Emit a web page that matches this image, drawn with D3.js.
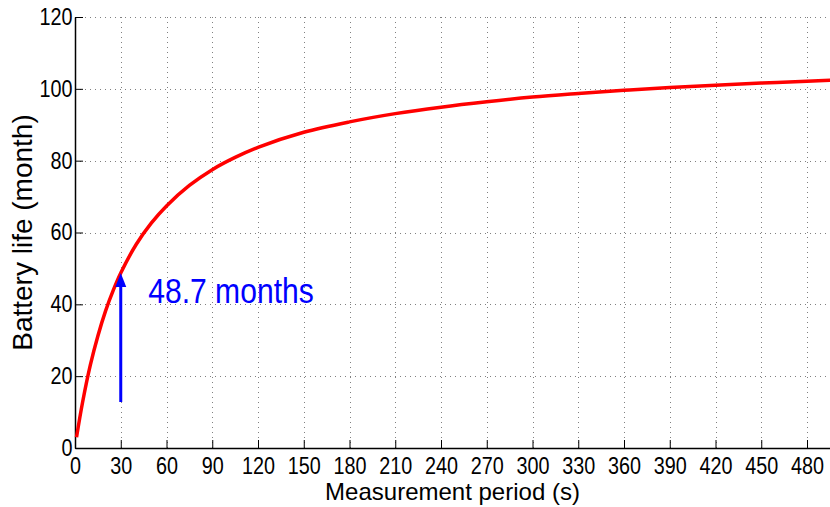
<!DOCTYPE html>
<html>
<head>
<meta charset="utf-8">
<script src="https://cdn.jsdelivr.net/npm/d3@7"></script>
<style>
  body { margin: 0; background: #fff; }
  svg { display: block; }
  text { font-family: "Liberation Sans", Arial, Helvetica, sans-serif; fill: #000; }
</style>
</head>
<body>
<div id="chart"></div>
<script>
  /*
    Data
  */

  // measurement period (s) and battery life (month) along the red curve
  const periods = [1, 5, 10, 15, 20, 25, 30, 40, 50, 60, 75, 90, 105, 120, 150, 180, 210, 240, 270, 300, 330, 360, 390, 420, 450, 480, 500];
  const lifeMonths = [3, 12.8, 23, 31.2, 38.1, 43.8, 48.7, 56.6, 62.6, 67.4, 73.1, 77.5, 80.9, 83.7, 87.9, 90.8, 93.1, 94.9, 96.4, 97.7, 98.7, 99.6, 100.4, 101, 101.6, 102.1, 102.5];

  const xTickValues = [0, 30, 60, 90, 120, 150, 180, 210, 240, 270, 300, 330, 360, 390, 420, 450, 480];
  const yTickValues = [0, 20, 40, 60, 80, 100, 120];

  // annotation: arrow at 30 s pointing to 48.7 months
  const arrowPeriod = 30;
  const arrowFrom = 12.8;
  const arrowTo = 48.7;
  const noteText = "48.7 months";
  const notePeriod = 48;
  const noteLife = 40.4;

  const xLabel = "Measurement period (s)";
  const yLabel = "Battery life (month)";

  /*
    Setup
  */

  const width = 830, height = 507;
  const plotLeft = 75, plotTop = 17, plotBottom = 448;

  const svg = d3.select("#chart").append("svg")
    .attr("width", width)
    .attr("height", height);

  svg.append("rect").attr("width", width).attr("height", height).attr("fill", "#fff");

  // 30 s is about 45.75 px in the reference
  const x = d3.scaleLinear().domain([0, 500]).range([plotLeft, plotLeft + 500 * 45.75 / 30]);
  const y = d3.scaleLinear().domain([0, 120]).range([plotBottom, plotTop]);

  /*
    Grid
  */

  const grid = svg.append("g")
    .attr("stroke", "#808080")
    .attr("stroke-width", 1)
    .attr("stroke-dasharray", "1,4");

  grid.selectAll(".vgrid")
    .data(xTickValues.filter(d => d > 0))
    .enter().append("line")
    .attr("class", "vgrid")
    .attr("x1", d => Math.round(x(d)) + 0.5)
    .attr("x2", d => Math.round(x(d)) + 0.5)
    .attr("y1", y(120))
    .attr("y2", y(0));

  grid.selectAll(".hgrid")
    .data(yTickValues.filter(d => d > 0))
    .enter().append("line")
    .attr("class", "hgrid")
    .attr("x1", x(0))
    .attr("x2", width)
    .attr("y1", d => Math.round(y(d)) + 0.5)
    .attr("y2", d => Math.round(y(d)) + 0.5);

  /*
    Axes
  */

  const xAxis = svg.append("g")
    .attr("transform", "translate(0," + y(0) + ")")
    .call(d3.axisBottom(x).tickValues(xTickValues).tickSizeInner(-8).tickSizeOuter(0).tickPadding(10));

  const yAxis = svg.append("g")
    .attr("transform", "translate(" + x(0) + ",0)")
    .call(d3.axisLeft(y).tickValues(yTickValues).tickSizeInner(-8).tickSizeOuter(0).tickPadding(3));

  // the reference uses a narrow-looking Helvetica, so squeeze the text a little
  [xAxis, yAxis].forEach(function (g) {
    g.select(".domain").attr("stroke", "#000").attr("stroke-width", 1.5);
    g.selectAll(".tick line").attr("stroke", "#000");
    g.selectAll(".tick text")
      .attr("font-size", 23)
      .attr("font-family", "\"Liberation Sans\", Arial, sans-serif")
      .attr("fill", "#000")
      .attr("transform", "scale(0.86,1)");
  });

  /*
    Curve
  */

  const line = d3.line()
    .x(function (d, i) { return x(periods[i]); })
    .y(function (d) { return y(d); })
    .curve(d3.curveCatmullRom.alpha(0.5));

  svg.append("path")
    .datum(lifeMonths)
    .attr("fill", "none")
    .attr("stroke", "#ff0000")
    .attr("stroke-width", 3.5)
    .attr("stroke-linejoin", "round")
    .attr("d", line);

  /*
    Arrow annotation
  */

  const ax = x(arrowPeriod);
  const tipY = y(arrowTo);
  const headLen = 14, headHalf = 5.5;

  svg.append("line")
    .attr("x1", ax).attr("x2", ax)
    .attr("y1", y(arrowFrom)).attr("y2", tipY + headLen - 1)
    .attr("stroke", "#0000ff")
    .attr("stroke-width", 3);

  svg.append("path")
    .attr("d", "M" + ax + "," + tipY +
      "L" + (ax + headHalf) + "," + (tipY + headLen) +
      "L" + (ax - headHalf) + "," + (tipY + headLen) + "Z")
    .attr("fill", "#0000ff");

  svg.append("text")
    .attr("transform", "translate(" + x(notePeriod) + "," + y(noteLife) + ") scale(0.86,1)")
    .attr("font-size", 35)
    .style("fill", "#0000ff")
    .text(noteText);

  /*
    Axis labels
  */

  svg.append("text")
    .attr("x", (x(0) + width) / 2)
    .attr("y", 500)
    .attr("text-anchor", "middle")
    .attr("font-size", 24)
    .text(xLabel);

  svg.append("text")
    .attr("transform", "translate(32," + ((plotTop + plotBottom) / 2) + ") rotate(-90)")
    .attr("text-anchor", "middle")
    .attr("font-size", 28)
    .text(yLabel);
</script>
</body>
</html>
